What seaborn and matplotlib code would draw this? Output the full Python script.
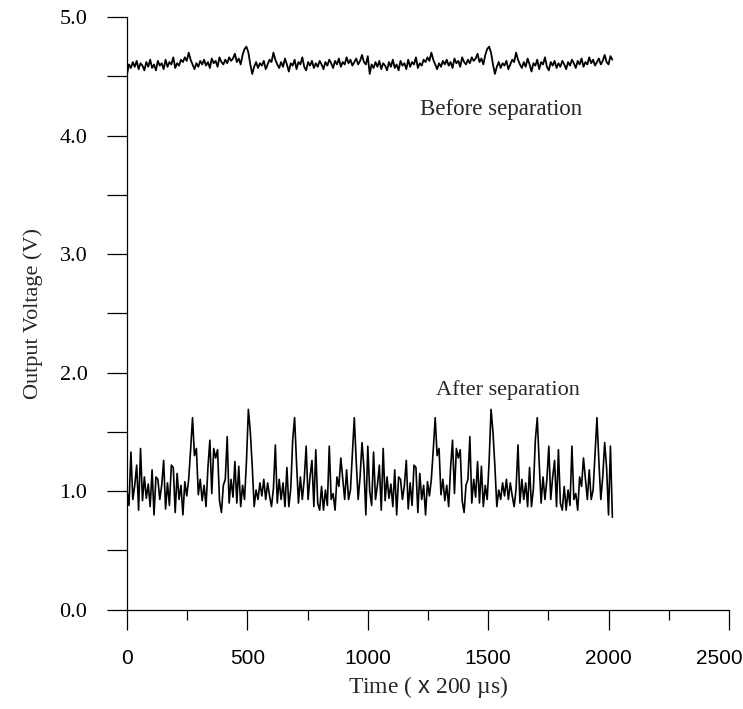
import numpy as np
import pandas as pd
import matplotlib
matplotlib.use("Agg")
import matplotlib.pyplot as plt
import matplotlib.transforms as mtransforms
import seaborn as sns
from matplotlib.ticker import MultipleLocator, FormatStrFormatter

SAMPLE_STEP = 8

# one period of each trace (the recording repeats itself, ~1000 samples per period)
after_cycle = [
    1.00, 0.88, 1.33, 0.93, 1.05, 1.22, 0.84, 1.36, 0.92, 1.12,
    0.94, 1.06, 0.87, 1.18, 0.80, 1.12, 1.10, 0.93, 1.05, 1.26,
    0.85, 1.07, 0.88, 1.22, 1.20, 0.82, 1.15, 0.93, 1.05, 0.80,
    1.08, 0.96, 1.10, 1.35, 1.62, 1.30, 1.36, 0.97, 1.10, 0.92,
    1.05, 0.87, 1.20, 1.43, 0.98, 1.36, 1.28, 1.35, 0.92, 0.82,
    1.05, 1.10, 1.46, 0.90, 1.10, 0.95, 1.25, 0.90, 1.21, 0.87,
    1.05, 0.93, 1.25, 1.69, 1.50, 1.21, 0.87, 1.01, 0.93, 1.07,
    0.96, 1.10, 0.93, 1.07, 0.96, 0.87, 1.02, 1.39, 0.90, 1.10,
    0.93, 1.07, 0.87, 1.20, 0.87, 1.02, 1.43, 1.62, 1.24, 0.90,
    1.12, 0.93, 1.10, 1.38, 0.93, 1.12, 1.26, 0.87, 1.35, 0.90,
    0.84, 1.04, 0.84, 1.01, 0.88, 1.38, 0.93, 0.98, 0.84, 1.12,
    1.04, 1.28, 1.10, 0.93, 1.18, 0.93, 1.01, 1.32, 1.62, 1.25,
    0.93, 1.12, 1.41, 1.20, 0.80, 1.38,
]

before_cycle = [
    4.52, 4.60, 4.57, 4.62, 4.58, 4.63, 4.56, 4.61, 4.59, 4.55,
    4.62, 4.58, 4.64, 4.57, 4.60, 4.55, 4.63, 4.59, 4.61, 4.56,
    4.64, 4.58, 4.62, 4.60, 4.66, 4.57, 4.61, 4.59, 4.64, 4.62,
    4.66, 4.63, 4.70, 4.64, 4.60, 4.56, 4.61, 4.58, 4.63, 4.60,
    4.64, 4.59, 4.62, 4.57, 4.65, 4.61, 4.63, 4.58, 4.66, 4.62,
    4.60, 4.64, 4.61, 4.66, 4.63, 4.65, 4.69, 4.62, 4.65, 4.60,
    4.68, 4.73, 4.75, 4.70, 4.60, 4.52, 4.58, 4.62, 4.57, 4.61,
    4.59, 4.63, 4.56, 4.60, 4.64, 4.62, 4.70, 4.64, 4.60, 4.57,
    4.62, 4.58, 4.65, 4.60, 4.54, 4.61, 4.59, 4.64, 4.56, 4.62,
    4.60, 4.66, 4.58, 4.55, 4.62, 4.59, 4.63, 4.57, 4.61, 4.58,
    4.63, 4.60, 4.56, 4.62, 4.59, 4.64, 4.61, 4.57, 4.63, 4.60,
    4.65, 4.58, 4.62, 4.60, 4.66, 4.61, 4.64, 4.59, 4.62, 4.65,
    4.60, 4.63, 4.68, 4.62, 4.60, 4.67,
]

# two periods plus the last sample of each trace
after_sep = after_cycle + after_cycle + [0.78]
before_sep = before_cycle + before_cycle + [4.64]

x_ticks = [0, 500, 1000, 1500, 2000, 2500]
y_ticks = [0.0, 1.0, 2.0, 3.0, 4.0, 5.0]


def build_frame() -> pd.DataFrame:
    n = len(after_sep)
    return pd.DataFrame({
        "time": np.arange(n) * SAMPLE_STEP,
        "after": after_sep,
        "before": before_sep,
    })


def plot_figure(df: pd.DataFrame, out_path: str):
    sns.set_style("ticks")
    plt.rcParams["font.family"] = ["Liberation Serif", "DejaVu Serif"]
    plt.rcParams["mathtext.fontset"] = "custom"
    plt.rcParams["mathtext.sf"] = "Liberation Sans"
    plt.rcParams["mathtext.rm"] = "Liberation Serif"

    fig = plt.figure(figsize=(7.43, 7.09), dpi=100)
    ax = fig.add_axes([0.171, 0.140, 0.810, 0.836])

    sns.lineplot(data=df, x="time", y="before", color="black", lw=1.3, ax=ax)
    sns.lineplot(data=df, x="time", y="after", color="black", lw=1.2, ax=ax)

    ax.set_xlim(x_ticks[0], x_ticks[-1])
    ax.set_ylim(y_ticks[0], y_ticks[-1])
    ax.set_xticks(x_ticks)
    ax.set_yticks(y_ticks)
    ax.xaxis.set_minor_locator(MultipleLocator(250))
    ax.yaxis.set_minor_locator(MultipleLocator(0.5))
    ax.yaxis.set_major_formatter(FormatStrFormatter("%.1f"))

    ax.tick_params(axis="both", which="major", length=14.5, width=0.9,
                   color="black", labelcolor="black", labelsize=16, pad=14)
    ax.tick_params(axis="y", which="minor", length=14.5, width=0.9, color="black")
    ax.tick_params(axis="x", which="minor", length=7, width=0.9, color="black")
    for lab in ax.get_xticklabels():
        lab.set_fontfamily("Liberation Sans")
        lab.set_fontsize(15)
    # last x label sits against the figure edge in the original
    last = ax.get_xticklabels()[-1]
    last.set_transform(last.get_transform() +
                       mtransforms.ScaledTranslation(-10 / 100, 0, fig.dpi_scale_trans))

    sns.despine(ax=ax)
    for side in ["left", "bottom"]:
        ax.spines[side].set_color("black")
        ax.spines[side].set_linewidth(0.9)

    ax.set_xlabel(r"Time ( $\mathsf{x}$ 200 µs)", fontsize=17, labelpad=4)
    ax.set_ylabel("Output Voltage (V)", fontsize=16, labelpad=12)

    ax.text(1555, 4.22, "Before separation", fontsize=16.5, ha="center", va="center")
    ax.text(1582, 1.85, "After separation", fontsize=16, ha="center", va="center")

    fig.savefig(out_path, dpi=100)
    plt.close(fig)


def main():
    df = build_frame()
    plot_figure(df, "out.png")


if __name__ == "__main__":
    main()
